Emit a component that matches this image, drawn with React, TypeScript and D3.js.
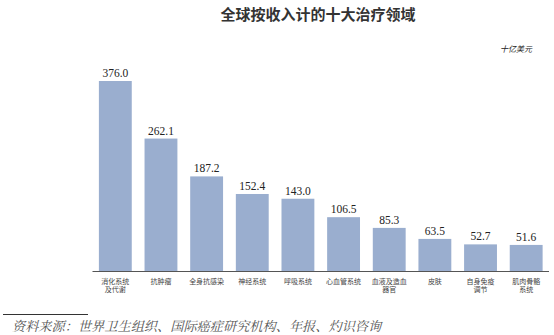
import React from "react";
import * as d3 from "d3";

const categories: string[][] = [
  ["消化系统", "及代谢"],
  ["抗肿瘤"],
  ["全身抗感染"],
  ["神经系统"],
  ["呼吸系统"],
  ["心血管系统"],
  ["血液及造血", "器官"],
  ["皮肤"],
  ["自身免疫", "调节"],
  ["肌肉骨骼", "系统"],
];
const values: number[] = [376.0, 262.1, 187.2, 152.4, 143.0, 106.5, 85.3, 63.5, 52.7, 51.6];
const title = "全球按收入计的十大治疗领域";
const unit = "十亿美元";
const source = "资料来源：世界卫生组织、国际癌症研究机构、年报、灼识咨询";

const W = 554;
const H = 335;
const left = 92.5;
const right = 549;
const baseline = 271;
const top = 81;

export default function App() {
  const ids = categories.map((_, i) => String(i));
  const x = d3.scaleBand<string>().domain(ids).range([left, right]).paddingInner(0.28).paddingOuter(0.14);
  const y = d3.scaleLinear().domain([0, 376]).range([baseline, top]);
  const sans = "'Noto Sans CJK SC', 'Noto Sans', sans-serif";
  return (
    <svg width={W} height={H} style={{ position: "absolute", left: 0, top: 0, background: "#fff" }}>
      <text x={318} y={20} textAnchor="middle" fontFamily={sans} fontWeight={700} fontSize={15} fill="#333">
        {title}
      </text>
      <text x={516} y={52} textAnchor="middle" fontFamily={sans} fontStyle="italic" fontSize={8} fill="#222">
        {unit}
      </text>
      {values.map((v, i) => {
        const bx = x(ids[i])!;
        return (
          <g key={i}>
            <rect x={bx} y={y(v)} width={x.bandwidth()} height={baseline - y(v)} fill="#9AAECF" />
            <text x={bx + x.bandwidth() / 2} y={y(v) - 4} textAnchor="middle" fontFamily="'Liberation Serif', serif" fontSize={11.5} fill="#222">
              {v.toFixed(1)}
            </text>
            {categories[i].map((line, j) => (
              <text key={j} x={bx + x.bandwidth() / 2} y={283.5 + j * 8.5} textAnchor="middle" fontFamily={sans} fontSize={7} fill="#444">
                {line}
              </text>
            ))}
          </g>
        );
      })}
      <line x1={left} x2={right} y1={baseline + 0.5} y2={baseline + 0.5} stroke="#555" strokeWidth={1} />
      <line x1={3} x2={88} y1={314.5} y2={314.5} stroke="#333" strokeWidth={1} />
      <text x={12} y={331} fontFamily="'Noto Serif CJK SC', 'Noto Sans CJK SC', serif" fontStyle="italic" fontSize={13.2} fill="#555">
        {source}
      </text>
    </svg>
  );
}
